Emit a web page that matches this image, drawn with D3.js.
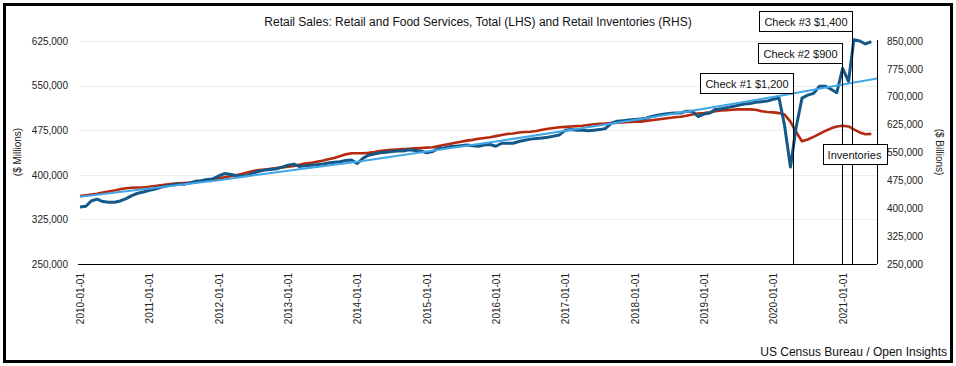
<!DOCTYPE html>
<html>
<head>
<meta charset="utf-8">
<script src="https://cdn.jsdelivr.net/npm/d3@7"></script>
<style>
  html, body { margin: 0; padding: 0; background: #fff; }
  svg { display: block; font-family: "Liberation Sans", Arial, Helvetica, sans-serif; }
</style>
</head>
<body>
<div id="chart"></div>
<script>
// -- Data ------------------------------------------------------------
var FIRST_MONTH = "2010-01-01";
var X_END = "2021-07-01";

// Retail and food services, total ($ millions, LHS), monthly Jan 2010 - Jun 2021
var salesValues = [
  346000, 347000, 356000, 359000, 355000, 354000, 354000, 356000, 360000, 365000, 369000, 371000,
  374000, 376000, 379000, 381000, 383000, 384000, 384000, 386000, 389000, 390000, 392000, 393000,
  398000, 402000, 401000, 399000, 398000, 399000, 403000, 406000, 408000, 409000, 410000, 413000,
  416000, 418000, 414000, 415000, 416000, 417000, 418000, 420000, 421000, 422000, 424000, 425000,
  419000, 428000, 433000, 435000, 437000, 438000, 439000, 440000, 440000, 442000, 441000, 440000,
  437000, 439000, 444000, 445000, 447000, 448000, 449000, 450000, 449000, 448000, 450000, 451000,
  448000, 453000, 453000, 453000, 456000, 458000, 460000, 461000, 462000, 463000, 465000, 467000,
  475000, 476000, 475000, 475000, 474000, 475000, 476000, 478000, 487000, 490000, 491000, 492000,
  493000, 494000, 495000, 498000, 500000, 502000, 503000, 504000, 504000, 507000, 507000, 498000,
  502000, 504000, 510000, 511000, 513000, 515000, 517000, 519000, 520000, 522000, 523000, 524000,
  527000, 529000, 483000, 413000, 480000, 529000, 534000, 537000, 549000, 549000, 544000, 538000,
  579000, 557000, 627000, 625000, 620000, 624000
];

// Retail inventories (RHS), monthly Jan 2010 - Jun 2021
var inventoryValues = [
  433000, 435000, 437000, 439000, 442000, 445000, 448000, 451000, 454000, 455000, 456000, 456000,
  458000, 460000, 462000, 464000, 466000, 467000, 468000, 469000, 471000, 473000, 476000, 478000,
  480000, 483000, 486000, 489000, 492000, 496000, 500000, 503000, 504000, 506000, 508000, 510000,
  512000, 514000, 517000, 520000, 522000, 525000, 528000, 532000, 535000, 540000, 545000, 548000,
  548000, 548000, 549000, 551000, 554000, 556000, 557000, 558000, 559000, 560000, 561000, 562000,
  563000, 564000, 567000, 570000, 573000, 576000, 579000, 582000, 584000, 587000, 589000, 591000,
  594000, 597000, 600000, 601000, 604000, 605000, 606000, 608000, 611000, 614000, 616000, 618000,
  619000, 620000, 621000, 622000, 624000, 626000, 627000, 628000, 629000, 630000, 631000, 632000,
  633000, 633000, 635000, 637000, 639000, 641000, 643000, 645000, 646000, 649000, 652000, 655000,
  656000, 658000, 661000, 663000, 664000, 665000, 666000, 666000, 666000, 665000, 661000, 659000,
  658000, 656000, 652000, 633000, 605000, 580000, 585000, 592000, 600000, 608000, 615000, 620000,
  622000, 620000, 612000, 604000, 599000, 600000
];

// Trend line for sales (LHS), read at each January and at the right edge
var trendDates = ["2010-01-01", "2011-01-01", "2012-01-01", "2013-01-01", "2014-01-01", "2015-01-01",
  "2016-01-01", "2017-01-01", "2018-01-01", "2019-01-01", "2020-01-01", "2021-01-01", "2021-07-01"];
var trendValues = [363000, 377000, 391000, 407000, 422000, 439000, 456000, 474000, 492000, 511000, 531000, 552000, 562000];

var leftTicks = [250000, 325000, 400000, 475000, 550000, 625000];
var rightTicks = [250000, 325000, 400000, 475000, 550000, 625000, 700000, 775000, 850000];
var xTickDates = ["2010-01-01", "2011-01-01", "2012-01-01", "2013-01-01", "2014-01-01", "2015-01-01",
  "2016-01-01", "2017-01-01", "2018-01-01", "2019-01-01", "2020-01-01", "2021-01-01"];

var checkLabels = ["Check #1 $1,200", "Check #2 $900", "Check #3 $1,400"];
var checkDates = ["2020-04-16", "2020-12-26", "2021-02-19"];

var TITLE = "Retail Sales: Retail and Food Services, Total (LHS) and Retail Inventories (RHS)";
var SOURCE = "US Census Bureau / Open Insights";

// -- Layout -----------------------------------------------------------
var W = 956, H = 366;
var plot = { left: 80, right: 877, top: 41, bottom: 264 };
var BLUE = "#135889", RED = "#b5290c", LIGHT = "#42a6e6";

var parse = d3.timeParse("%Y-%m-%d");
var start = parse(FIRST_MONTH);

var sales = salesValues.map(function (v, i) { return { date: d3.timeMonth.offset(start, i), value: v }; });
var inventories = inventoryValues.map(function (v, i) { return { date: d3.timeMonth.offset(start, i), value: v }; });
var trend = trendDates.map(function (d, i) { return { date: parse(d), value: trendValues[i] }; });

var x = d3.scaleTime().domain([start, parse(X_END)]).range([plot.left, plot.right]);
var yL = d3.scaleLinear().domain([250000, 625000]).range([plot.bottom, plot.top]);
var yR = d3.scaleLinear().domain([250000, 850000]).range([plot.bottom, plot.top]);
var fmt = d3.format(",");

var svg = d3.select("#chart").append("svg").attr("width", W).attr("height", H);

svg.append("rect").attr("x", 0).attr("y", 0).attr("width", W).attr("height", H).attr("fill", "#fff");

// Frame
svg.append("rect")
  .attr("x", 4.5).attr("y", 4.5).attr("width", W - 9).attr("height", H - 9)
  .attr("fill", "none").attr("stroke", "#000").attr("stroke-width", 3);

// Title
svg.append("text")
  .attr("x", 478).attr("y", 26)
  .attr("text-anchor", "middle").attr("font-size", "12px").attr("fill", "#111")
  .text(TITLE);

// Gridlines (LHS)
svg.append("g").selectAll("line").data(leftTicks.slice(1)).join("line")
  .attr("x1", plot.left).attr("x2", plot.right)
  .attr("y1", function (d) { return Math.round(yL(d)) + 0.5; })
  .attr("y2", function (d) { return Math.round(yL(d)) + 0.5; })
  .attr("stroke", "#ececec").attr("stroke-width", 1);

// Left axis
var leftAxis = svg.append("g")
  .attr("transform", "translate(" + (plot.left - 12) + ",0)")
  .call(d3.axisLeft(yL).tickValues(leftTicks).tickFormat(fmt).tickSize(0).tickPadding(0));
leftAxis.select(".domain").remove();
leftAxis.selectAll("text").attr("font-size", "10px").attr("fill", "#222").attr("font-family", null);

// Right axis
var rightAxis = svg.append("g")
  .attr("transform", "translate(" + (plot.right + 10) + ",0)")
  .call(d3.axisRight(yR).tickValues(rightTicks).tickFormat(fmt).tickSize(0).tickPadding(0));
rightAxis.select(".domain").remove();
rightAxis.selectAll("text").attr("font-size", "10px").attr("fill", "#222").attr("font-family", null);

svg.append("line")
  .attr("x1", plot.right + 0.5).attr("x2", plot.right + 0.5)
  .attr("y1", plot.top - 1).attr("y2", plot.bottom)
  .attr("stroke", "#000").attr("stroke-width", 1);

// Bottom axis
var xAxis = svg.append("g")
  .attr("transform", "translate(0," + plot.bottom + ")")
  .call(d3.axisBottom(x).tickValues(xTickDates.map(parse)).tickFormat(d3.timeFormat("%Y-%m-%d")).tickSize(0).tickPadding(0));
xAxis.select(".domain").remove();
xAxis.selectAll("text")
  .attr("font-size", "10px").attr("fill", "#222").attr("font-family", null)
  .attr("text-anchor", "end")
  .attr("transform", "rotate(-90)")
  .attr("x", -9).attr("y", 0).attr("dy", "0.35em");

svg.append("line")
  .attr("x1", plot.left - 2).attr("x2", plot.right)
  .attr("y1", plot.bottom + 0.5).attr("y2", plot.bottom + 0.5)
  .attr("stroke", "#000").attr("stroke-width", 1.2);

// Axis titles
svg.append("text")
  .attr("transform", "translate(21,152) rotate(-90)")
  .attr("text-anchor", "middle").attr("font-size", "10px").attr("fill", "#222")
  .text("($ Millions)");
svg.append("text")
  .attr("transform", "translate(936,152) rotate(90)")
  .attr("text-anchor", "middle").attr("font-size", "10px").attr("fill", "#222")
  .text("($ Billions)");

// Series
var lineL = d3.line().x(function (d) { return x(d.date); }).y(function (d) { return yL(d.value); });
var lineR = d3.line().x(function (d) { return x(d.date); }).y(function (d) { return yR(d.value); });

svg.append("path").datum(inventories)
  .attr("d", lineR).attr("fill", "none").attr("stroke", RED)
  .attr("stroke-width", 2.6).attr("stroke-linejoin", "round");

svg.append("path").datum(sales)
  .attr("d", lineL).attr("fill", "none").attr("stroke", BLUE)
  .attr("stroke-width", 3).attr("stroke-linejoin", "round");

svg.append("path").datum(trend)
  .attr("d", lineL).attr("fill", "none").attr("stroke", LIGHT)
  .attr("stroke-width", 2);

// Stimulus check annotations
var boxTop = [73, 43, 11];
var boxH = 20;
checkDates.forEach(function (d, i) {
  var cx = Math.round(x(parse(d))) + 0.5;
  var top = boxTop[i];
  svg.append("line")
    .attr("x1", cx).attr("x2", cx)
    .attr("y1", top + boxH).attr("y2", plot.bottom)
    .attr("stroke", "#000").attr("stroke-width", 1);
  var t = svg.append("text")
    .attr("font-size", "11px").attr("fill", "#111")
    .attr("text-anchor", "middle")
    .text(checkLabels[i]);
  var w = Math.round(t.node().getComputedTextLength() + 10);
  svg.insert("rect", function () { return t.node(); })
    .attr("x", cx - w).attr("y", top + 0.5).attr("width", w).attr("height", boxH)
    .attr("fill", "#fff").attr("stroke", "#000").attr("stroke-width", 1);
  t.attr("x", cx - w / 2).attr("y", top + boxH / 2 + 4.5);
});

// Inventories label
(function () {
  var t = svg.append("text")
    .attr("font-size", "11px").attr("fill", "#111").attr("text-anchor", "middle")
    .text("Inventories");
  var w = t.node().getComputedTextLength() + 10;
  var cx = 854.5;
  svg.insert("rect", function () { return t.node(); })
    .attr("x", Math.round(cx - w / 2) + 0.5).attr("y", 144.5).attr("width", Math.round(w)).attr("height", boxH)
    .attr("fill", "#fff").attr("stroke", "#000").attr("stroke-width", 1);
  t.attr("x", cx).attr("y", 158.5);
})();

// Source
svg.append("text")
  .attr("x", 947).attr("y", 356)
  .attr("text-anchor", "end").attr("font-size", "12px").attr("fill", "#111")
  .text(SOURCE);
</script>
</body>
</html>
